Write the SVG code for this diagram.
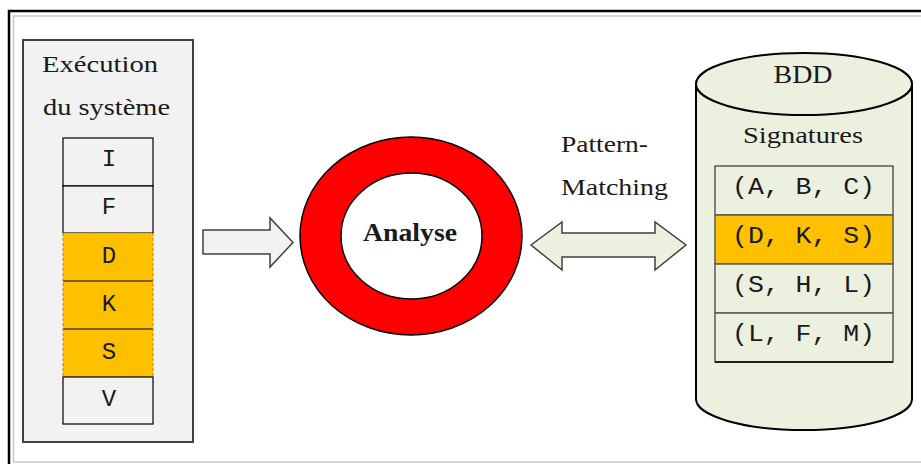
<svg xmlns="http://www.w3.org/2000/svg" width="921" height="464" viewBox="0 0 921 464">
<style>
.serif{font-family:"Liberation Serif","Times New Roman",serif;fill:#1a1a1a}
.mono{font-family:"Liberation Mono","Courier New",monospace;fill:#1a1a1a;font-size:24px}
.cell{fill:#f2f2f2;stroke:#000;stroke-width:1.2}
.hl{fill:#ffc000;stroke:none}
.row{fill:#ebf1de;stroke:#595959;stroke-width:1.5}
</style>
<rect x="0" y="0" width="921" height="464" fill="#fff"/>
<g id="frame" fill="none">
<path d="M9 464 V11 H921" stroke="#000" stroke-width="2.5"/>
<path d="M13.5 462 V16 H921 M13.5 462 H921" stroke="#c8c8c8" stroke-width="1.5"/>
</g>
<g id="execution">
<rect x="23" y="40" width="170" height="402" fill="#f2f2f2" stroke="#404040" stroke-width="2"/>
<text class="serif" x="42" y="72" font-size="24" textLength="116" lengthAdjust="spacingAndGlyphs">Exécution</text>
<text class="serif" x="43" y="115" font-size="24" textLength="127" lengthAdjust="spacingAndGlyphs">du système</text>
<rect class="cell" x="63" y="138" width="90" height="48"/>
<rect class="cell" x="63" y="186" width="90" height="47"/>
<rect class="hl" x="63" y="233" width="90" height="144"/>
<line x1="63" y1="281" x2="153" y2="281" stroke="#000" stroke-width="1.2"/>
<line x1="63" y1="329" x2="153" y2="329" stroke="#000" stroke-width="1.2"/>
<rect x="63" y="233" width="90" height="144" fill="none" stroke="#b8862b" stroke-width="1" stroke-dasharray="3,2"/>
<rect class="cell" x="63" y="377" width="90" height="47"/>
<text class="mono" x="109" y="166" text-anchor="middle">I</text>
<text class="mono" x="109" y="214" text-anchor="middle">F</text>
<text class="mono" x="109" y="263" text-anchor="middle">D</text>
<text class="mono" x="109" y="311" text-anchor="middle">K</text>
<text class="mono" x="109" y="359" text-anchor="middle">S</text>
<text class="mono" x="109" y="406" text-anchor="middle">V</text>
</g>
<g id="connectors" stroke="#404040" stroke-width="1.5" stroke-linejoin="miter">
<path d="M203 230 H270 V218 L293 242.5 L270 267 V254 H203 Z" fill="#f2f2f2"/>
<path d="M531 245 L562 222 V233 H655 V222 L686 245 L655 270 V257 H562 V270 Z" fill="#ebf1de"/>
</g>
<g id="analyse">
<path d="M300 236 A111 99 0 1 0 522 236 A111 99 0 1 0 300 236 Z M341 236 A70.5 63 0 1 1 482 236 A70.5 63 0 1 1 341 236 Z" fill="#ff0000" fill-rule="evenodd" stroke="#000" stroke-width="1.5"/>
<text class="serif" x="410" y="241" font-size="25" font-weight="bold" text-anchor="middle" textLength="94" lengthAdjust="spacingAndGlyphs" fill="#000">Analyse</text>
</g>
<g id="pattern-label">
<text class="serif" x="561" y="152" font-size="23" textLength="87" lengthAdjust="spacingAndGlyphs">Pattern-</text>
<text class="serif" x="561" y="195" font-size="23" textLength="107" lengthAdjust="spacingAndGlyphs">Matching</text>
</g>
<g id="bdd">
<path d="M696 84 V399 A108 31 0 0 0 912 399 V84" fill="#ebf1de" stroke="#000" stroke-width="2"/>
<ellipse cx="804" cy="84" rx="108" ry="31" fill="#ebf1de" stroke="#000" stroke-width="2"/>
<text class="serif" x="803" y="83" font-size="25" text-anchor="middle" textLength="59" lengthAdjust="spacingAndGlyphs">BDD</text>
<text class="serif" x="803" y="143" font-size="24" text-anchor="middle" textLength="120" lengthAdjust="spacingAndGlyphs">Signatures</text>
<rect class="row" x="715" y="166" width="178" height="49"/>
<rect x="715" y="215" width="178" height="49" fill="#ffc000" stroke="#595959" stroke-width="1.5"/>
<rect class="row" x="715" y="264" width="178" height="49"/>
<rect class="row" x="715" y="313" width="178" height="49"/>
<line x1="715" y1="362" x2="893" y2="362" stroke="#000" stroke-width="1.5"/>
<text class="mono" x="732" y="194" textLength="143" lengthAdjust="spacingAndGlyphs">(A, B, C)</text>
<text class="mono" x="732" y="243" textLength="143" lengthAdjust="spacingAndGlyphs">(D, K, S)</text>
<text class="mono" x="732" y="292" textLength="143" lengthAdjust="spacingAndGlyphs">(S, H, L)</text>
<text class="mono" x="732" y="341" textLength="143" lengthAdjust="spacingAndGlyphs">(L, F, M)</text>
</g>
</svg>
